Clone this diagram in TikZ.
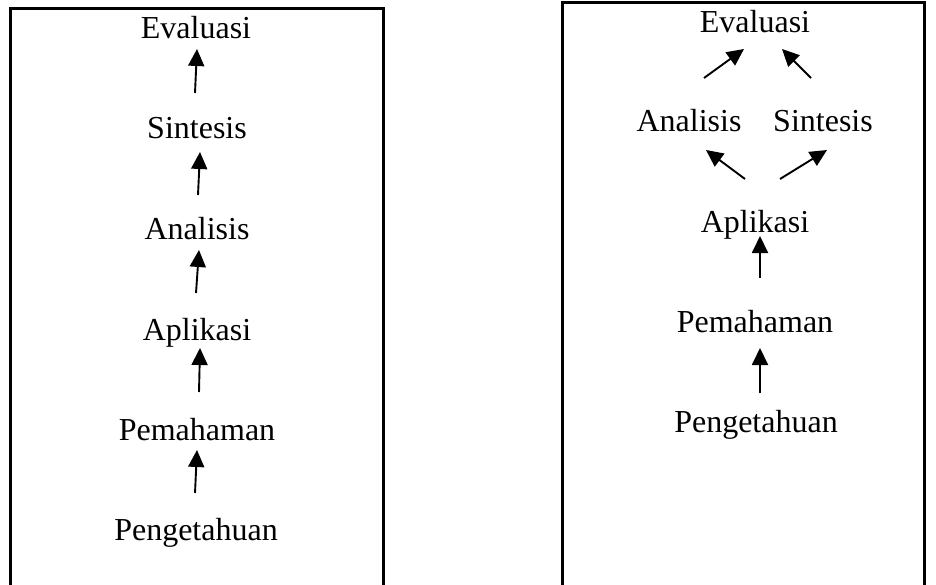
\documentclass[tikz,border=0pt]{standalone}
\usepackage{fontspec}
\setmainfont{Liberation Serif}
\usetikzlibrary{arrows.meta}
\begin{document}
\begin{tikzpicture}[x=1pt,y=-1pt,
  lbl/.style={anchor=base,inner sep=0pt,font=\fontsize{32}{36}\selectfont},
  frame/.style={line width=3pt},
  arr/.style={line width=1.9pt,-{Triangle[width=16pt,length=17pt]}}]
\useasboundingbox (0,0) rectangle (936,585);
% frames
\draw[frame] (10,600) -- (10,9) -- (383,9) -- (383,600);
\draw[frame] (562,600) -- (562,3) -- (924,3) -- (924,600);
% left column
\node[lbl] (lE) at (196,39) {Evaluasi};
\node[lbl] (lS) at (197,139) {Sintesis};
\node[lbl] (lAn) at (197,240) {Analisis};
\node[lbl] (lAp) at (197,340) {Aplikasi};
\node[lbl] (lPm) at (197,440) {Pemahaman};
\node[lbl] (lPg) at (196,540) {Pengetahuan};
\coordinate (t1) at (195,93);  \coordinate (h1) at (197,49);
\coordinate (t2) at (198,195); \coordinate (h2) at (200,152);
\coordinate (t3) at (196,293); \coordinate (h3) at (199,250);
\coordinate (t4) at (199,392); \coordinate (h4) at (200,348);
\coordinate (t5) at (195,493); \coordinate (h5) at (197,450);
\draw[arr] (t1) -- (h1);
\draw[arr] (t2) -- (h2);
\draw[arr] (t3) -- (h3);
\draw[arr] (t4) -- (h4);
\draw[arr] (t5) -- (h5);
% right column
\node[lbl] (rE) at (755,33) {Evaluasi};
\node[lbl] (rAn) at (689,132) {Analisis};
\node[lbl] (rS) at (823,132) {Sintesis};
\node[lbl] (rAp) at (755,233) {Aplikasi};
\node[lbl] (rPm) at (755,332) {Pemahaman};
\node[lbl] (rPg) at (756,432) {Pengetahuan};
\coordinate (u1) at (704,78); \coordinate (g1) at (744,49);
\coordinate (u2) at (811,78); \coordinate (g2) at (782,49);
\coordinate (u3) at (745,179); \coordinate (g3) at (706,150);
\coordinate (u4) at (780,179); \coordinate (g4) at (827,150);
\coordinate (u5) at (760,278); \coordinate (g5) at (760,236);
\coordinate (u6) at (760,393); \coordinate (g6) at (760,348);
\draw[arr] (u1) -- (g1);
\draw[arr] (u2) -- (g2);
\draw[arr] (u3) -- (g3);
\draw[arr] (u4) -- (g4);
\draw[arr] (u5) -- (g5);
\draw[arr] (u6) -- (g6);
\end{tikzpicture}
\end{document}
